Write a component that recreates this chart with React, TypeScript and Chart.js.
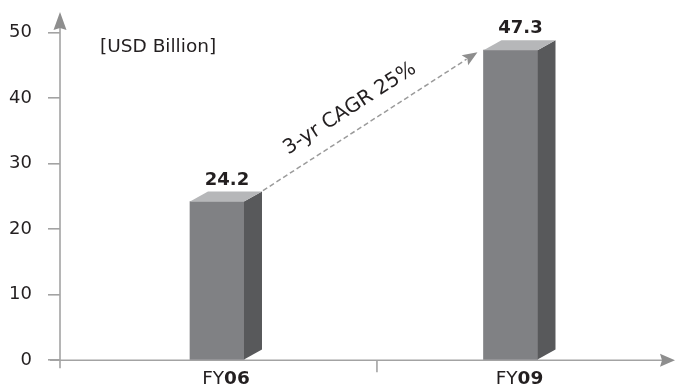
import React, { useEffect, useRef } from "react";
import { Chart, registerables } from "chart.js";

Chart.register(...registerables);

// ---- data ----
const categories = ["FY06", "FY09"];
const values = [24.2, 47.3];
const yMin = 0;
const yMax = 50;
const yStep = 10;
const unitLabel = "[USD Billion]";
const cagrLabel = "3-yr CAGR 25%";

// ---- style ----
const FONT = "'DejaVu Sans', sans-serif";
const FRONT = "#808184";
const SIDE = "#58595b";
const TOP = "#b6b7b9";
const AXIS = "#a3a3a3";
const ARROW = "#8e8e8e";
const TEXT = "#231f20";
const DX = 18;
const DY = 10;

const axesPlugin = {
  id: "axesDeco",
  beforeDatasetsDraw(chart: any) {
    const { ctx, chartArea, scales } = chart;
    const x0 = chartArea.left;
    const yb = scales.y.getPixelForValue(0);
    ctx.save();
    ctx.strokeStyle = AXIS;
    ctx.lineWidth = 1.6;
    // y axis line
    ctx.beginPath();
    ctx.moveTo(x0, yb + 8);
    ctx.lineTo(x0, 26);
    ctx.stroke();
    // x axis line
    ctx.beginPath();
    ctx.moveTo(x0 - 10, yb);
    ctx.lineTo(663, yb);
    ctx.stroke();
    // divider tick between categories
    const xd = scales.x.getPixelForValue(1.545);
    ctx.beginPath();
    ctx.moveTo(xd, yb);
    ctx.lineTo(xd, yb + 12);
    ctx.stroke();
    // arrow heads
    ctx.fillStyle = ARROW;
    ctx.beginPath();
    ctx.moveTo(x0, 12);
    ctx.lineTo(x0 + 6.5, 30);
    ctx.lineTo(x0, 28);
    ctx.lineTo(x0 - 6.5, 30);
    ctx.closePath();
    ctx.fill();
    ctx.beginPath();
    ctx.moveTo(675, yb);
    ctx.lineTo(660, yb - 6.5);
    ctx.lineTo(662, yb);
    ctx.lineTo(660, yb + 6.5);
    ctx.closePath();
    ctx.fill();
    ctx.restore();
  },
};

const boxPlugin = {
  id: "box3d",
  afterDatasetsDraw(chart: any) {
    const { ctx, scales } = chart;
    const meta = chart.getDatasetMeta(0);
    ctx.save();
    meta.data.forEach((bar: any, i: number) => {
      const { x, y, base, width } = bar.getProps(["x", "y", "base", "width"], true);
      const l = x - width / 2;
      const r = x + width / 2;
      // side
      ctx.fillStyle = SIDE;
      ctx.beginPath();
      ctx.moveTo(r, y);
      ctx.lineTo(r + DX, y - DY);
      ctx.lineTo(r + DX, base - DY);
      ctx.lineTo(r, base);
      ctx.closePath();
      ctx.fill();
      // top
      ctx.fillStyle = TOP;
      ctx.beginPath();
      ctx.moveTo(l, y);
      ctx.lineTo(l + DX, y - DY);
      ctx.lineTo(r + DX, y - DY);
      ctx.lineTo(r, y);
      ctx.closePath();
      ctx.fill();
      // value label
      ctx.fillStyle = TEXT;
      ctx.font = `bold 18px ${FONT}`;
      ctx.textAlign = "center";
      ctx.textBaseline = "alphabetic";
      ctx.fillText(values[i].toFixed(1), x + DX / 2 + 1, y - DY - 7);
      // category label: "FY" regular + digits bold
      const cat = categories[i];
      const m = cat.match(/^(\D*)(\d*)$/);
      const pre = m ? m[1] : cat;
      const post = m ? m[2] : "";
      ctx.font = `18.5px ${FONT}`;
      const w1 = ctx.measureText(pre).width;
      ctx.font = `bold 18.5px ${FONT}`;
      const w2 = ctx.measureText(post).width;
      const cx = x + DX / 2;
      const sx = cx - (w1 + w2) / 2;
      const by = scales.y.getPixelForValue(0) + 24;
      ctx.textAlign = "left";
      ctx.font = `18.5px ${FONT}`;
      ctx.fillText(pre, sx, by);
      ctx.font = `bold 18.5px ${FONT}`;
      ctx.fillText(post, sx + w1, by);
    });

    // CAGR arrow
    const b1 = meta.data[0].getProps(["x", "y", "width"], true);
    const b2 = meta.data[1].getProps(["x", "y", "width"], true);
    const sx = b1.x + b1.width / 2 + DX + 1;
    const sy = b1.y - DY - 1;
    const ex = b2.x - b2.width / 2 - 6;
    const ey = b2.y + 2;
    const ang = Math.atan2(ey - sy, ex - sx);
    const len = Math.hypot(ex - sx, ey - sy);
    const ux = Math.cos(ang);
    const uy = Math.sin(ang);
    const hl = 15;
    ctx.strokeStyle = "#9b9b9b";
    ctx.lineWidth = 1.5;
    ctx.setLineDash([5, 3]);
    ctx.beginPath();
    ctx.moveTo(sx, sy);
    ctx.lineTo(ex - ux * (hl - 2), ey - uy * (hl - 2));
    ctx.stroke();
    ctx.setLineDash([]);
    ctx.fillStyle = ARROW;
    ctx.beginPath();
    ctx.moveTo(ex, ey);
    ctx.lineTo(ex - ux * hl - uy * 6, ey - uy * hl + ux * 6);
    ctx.lineTo(ex - ux * (hl - 3), ey - uy * (hl - 3));
    ctx.lineTo(ex - ux * hl + uy * 6, ey - uy * hl - ux * 6);
    ctx.closePath();
    ctx.fill();
    // rotated text
    const along = len * 0.46;
    const perp = 16.5;
    const tx = sx + ux * along + uy * perp;
    const ty = sy + uy * along - ux * perp;
    ctx.translate(tx, ty);
    ctx.rotate(ang);
    ctx.fillStyle = TEXT;
    ctx.font = `20px ${FONT}`;
    ctx.textAlign = "center";
    ctx.textBaseline = "alphabetic";
    ctx.fillText(cagrLabel, 0, 0);
    ctx.restore();

    // unit label
    ctx.save();
    ctx.fillStyle = TEXT;
    ctx.font = `18.5px ${FONT}`;
    ctx.textAlign = "left";
    ctx.textBaseline = "alphabetic";
    ctx.fillText(unitLabel, 100, 51.5);
    ctx.restore();
  },
};

export default function App() {
  const ref = useRef<HTMLCanvasElement | null>(null);
  useEffect(() => {
    if (!ref.current) return;
    const chart = new Chart(ref.current, {
      type: "bar",
      data: {
        datasets: [
          {
            data: values.map((v, i) => ({ x: i + 1, y: v })),
            backgroundColor: FRONT,
            borderWidth: 0,
            barThickness: 54,
          },
        ],
      },
      options: {
        animation: false,
        responsive: false,
        maintainAspectRatio: false,
        layout: { padding: { top: 32.5, right: 15, bottom: 25.5, left: 0 } },
        plugins: { legend: { display: false }, tooltip: { enabled: false } },
        scales: {
          x: {
            type: "linear",
            min: 0.4651,
            max: 2.5094,
            offset: false,
            grid: { offset: false },
            display: false,
          },
          y: {
            min: yMin,
            max: yMax,
            ticks: {
              stepSize: yStep,
              color: TEXT,
              font: { family: "'DejaVu Sans', sans-serif", size: 18 },
              padding: 16,
            },
            grid: {
              drawOnChartArea: false,
              drawTicks: true,
              tickLength: 12,
              color: AXIS,
              lineWidth: 1.6,
            },
            border: { display: false },
            afterFit: (scale: any) => {
              scale.width = 60;
            },
          },
        },
      } as any,
      plugins: [axesPlugin, boxPlugin],
    });
    return () => chart.destroy();
  }, []);
  return (
    <div style={{ position: "fixed", left: 0, top: 0, width: 675, height: 387, background: "#fff" }}>
      <canvas ref={ref} width={675} height={387} style={{ display: "block" }} />
    </div>
  );
}
